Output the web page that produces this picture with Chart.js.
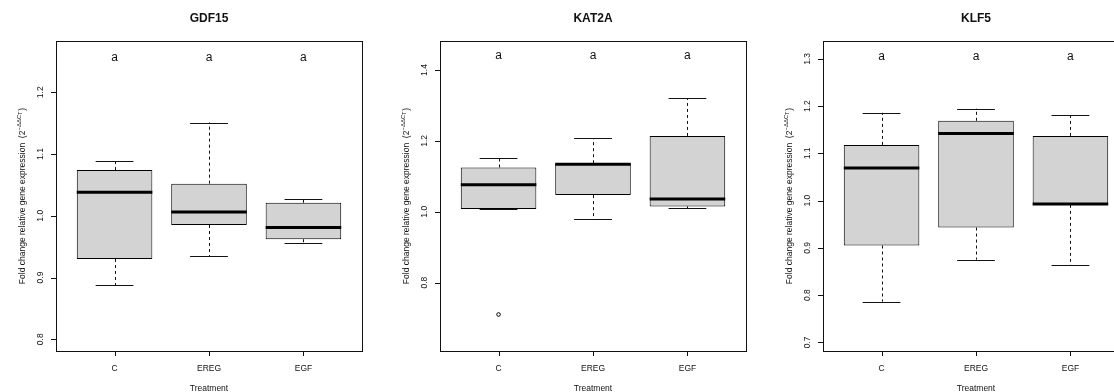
<!DOCTYPE html>
<html>
<head>
<meta charset="utf-8">
<script src="https://cdn.jsdelivr.net/npm/chart.js@4/dist/chart.umd.min.js"></script>
<style>
  html, body { margin: 0; padding: 0; background: #fff; overflow: hidden; }
  #fig { position: relative; width: 1114px; height: 392px; overflow: hidden; background: #fff; }
  #fig canvas { position: absolute; top: 0; }
</style>
</head>
<body>
<div id="fig">
  <canvas id="panel0" width="383" height="392" style="left:0px"></canvas>
  <canvas id="panel1" width="383" height="392" style="left:384px"></canvas>
  <canvas id="panel2" width="383" height="392" style="left:767px"></canvas>
</div>
<script>
// Treatment groups on the x axis
const treatments = ['C', 'EREG', 'EGF'];
const groupLetters = ['a', 'a', 'a'];

// GDF15 five-number summaries per treatment
const gdf15Lower  = [0.888, 0.935, 0.956];
const gdf15Q1     = [0.930, 0.985, 0.962];
const gdf15Median = [1.038, 1.006, 0.981];
const gdf15Q3     = [1.074, 1.052, 1.021];
const gdf15Upper  = [1.089, 1.151, 1.027];
const gdf15Outliers = [[], [], []];
const gdf15Ticks = [0.8, 0.9, 1.0, 1.1, 1.2];

// KAT2A five-number summaries per treatment
const kat2aLower  = [1.008, 0.979, 1.010];
const kat2aQ1     = [1.008, 1.047, 1.015];
const kat2aMedian = [1.076, 1.134, 1.036];
const kat2aQ3     = [1.125, 1.137, 1.214];
const kat2aUpper  = [1.153, 1.208, 1.320];
const kat2aOutliers = [[0.710], [], []];
const kat2aTicks = [0.8, 1.0, 1.2, 1.4];

// KLF5 five-number summaries per treatment
const klf5Lower  = [0.786, 0.875, 0.863];
const klf5Q1     = [0.905, 0.943, 0.991];
const klf5Median = [1.069, 1.142, 0.993];
const klf5Q3     = [1.118, 1.169, 1.137];
const klf5Upper  = [1.186, 1.195, 1.181];
const klf5Outliers = [[], [], []];
const klf5Ticks = [0.7, 0.8, 0.9, 1.0, 1.1, 1.2, 1.3];

const panels = [
  { canvas: 'panel0', gene: 'GDF15', lower: gdf15Lower, q1: gdf15Q1, median: gdf15Median, q3: gdf15Q3, upper: gdf15Upper,
    outliers: gdf15Outliers, ticks: gdf15Ticks, yMin: 0.781, yMax: 1.283, letterY: 1.255 },
  { canvas: 'panel1', gene: 'KAT2A', lower: kat2aLower, q1: kat2aQ1, median: kat2aMedian, q3: kat2aQ3, upper: kat2aUpper,
    outliers: kat2aOutliers, ticks: kat2aTicks, yMin: 0.607, yMax: 1.482, letterY: 1.44 },
  { canvas: 'panel2', gene: 'KLF5', lower: klf5Lower, q1: klf5Q1, median: klf5Median, q3: klf5Q3, upper: klf5Upper,
    outliers: klf5Outliers, ticks: klf5Ticks, yMin: 0.6816, yMax: 1.338, letterY: 1.304 }
];

const FONT = '"Liberation Sans", Arial, Helvetica, sans-serif';
const INK = '#111';
const BOX_HALF = 0.4;    // half box width, in x units
const STAPLE_HALF = 0.2; // half whisker cap width, in x units

// Draws whiskers (under the boxes), then medians, frame, axes and labels (over them)
function boxplotPlugin(spec) {
  return {
    id: 'boxplotDecor',
    beforeDatasetsDraw(chart) {
      const ctx = chart.ctx, xs = chart.scales.x, ys = chart.scales.y;
      ctx.save();
      ctx.strokeStyle = INK;
      ctx.lineWidth = 1;
      spec.q1.forEach((_, i) => {
        const xv = i + 1;
        const x = Math.round(xs.getPixelForValue(xv)) + 0.5;
        const yLo = ys.getPixelForValue(spec.lower[i]);
        const yQ1 = ys.getPixelForValue(spec.q1[i]);
        const yQ3 = ys.getPixelForValue(spec.q3[i]);
        const yHi = ys.getPixelForValue(spec.upper[i]);
        ctx.setLineDash([3, 3]);
        ctx.beginPath();
        ctx.moveTo(x, yQ3); ctx.lineTo(x, yHi);
        ctx.moveTo(x, yQ1); ctx.lineTo(x, yLo);
        ctx.stroke();
        ctx.setLineDash([]);
        const sl = xs.getPixelForValue(xv - STAPLE_HALF), sr = xs.getPixelForValue(xv + STAPLE_HALF);
        ctx.beginPath();
        ctx.moveTo(sl, Math.round(yHi) + 0.5); ctx.lineTo(sr, Math.round(yHi) + 0.5);
        ctx.moveTo(sl, Math.round(yLo) + 0.5); ctx.lineTo(sr, Math.round(yLo) + 0.5);
        ctx.stroke();
      });
      ctx.restore();
    },
    afterDatasetsDraw(chart) {
      const ctx = chart.ctx, xs = chart.scales.x, ys = chart.scales.y;
      const a = chart.chartArea;
      ctx.save();

      // medians
      ctx.strokeStyle = '#000';
      ctx.lineWidth = 3;
      ctx.lineCap = 'butt';
      spec.median.forEach((m, i) => {
        const y = ys.getPixelForValue(m);
        ctx.beginPath();
        ctx.moveTo(xs.getPixelForValue(i + 1 - BOX_HALF), y);
        ctx.lineTo(xs.getPixelForValue(i + 1 + BOX_HALF), y);
        ctx.stroke();
      });

      // frame
      ctx.lineWidth = 1;
      ctx.strokeStyle = INK;
      ctx.strokeRect(a.left + 0.5, a.top + 0.5, a.right - a.left, a.bottom - a.top);

      // y axis ticks and labels
      ctx.fillStyle = INK;
      ctx.font = '8.5px ' + FONT;
      ctx.beginPath();
      spec.ticks.forEach(t => {
        const y = Math.round(ys.getPixelForValue(t)) + 0.5;
        ctx.moveTo(a.left - 5, y); ctx.lineTo(a.left, y);
      });
      ctx.stroke();
      ctx.textAlign = 'center';
      ctx.textBaseline = 'alphabetic';
      spec.ticks.forEach(t => {
        const y = ys.getPixelForValue(t);
        ctx.save();
        ctx.translate(a.left - 13.5, y);
        ctx.rotate(-Math.PI / 2);
        ctx.fillText(t.toFixed(1), 0, 0);
        ctx.restore();
      });

      // x axis ticks and labels
      ctx.beginPath();
      treatments.forEach((_, i) => {
        const x = Math.round(xs.getPixelForValue(i + 1)) + 0.5;
        ctx.moveTo(x, a.bottom); ctx.lineTo(x, a.bottom + 5);
      });
      ctx.stroke();
      treatments.forEach((t, i) => {
        ctx.fillText(t, xs.getPixelForValue(i + 1), 371);
      });

      // axis titles
      const cx = (a.left + a.right) / 2, cy = (a.top + a.bottom) / 2;
      ctx.fillText('Treatment', cx, 391);
      drawYTitle(ctx, 24.5, cy);

      // panel title
      ctx.font = 'bold 12px ' + FONT;
      ctx.fillText(spec.gene, cx, 22);

      // group letters
      ctx.font = '12px ' + FONT;
      groupLetters.forEach((g, i) => {
        ctx.fillText(g, xs.getPixelForValue(i + 1), ys.getPixelForValue(spec.letterY) + 3);
      });
      ctx.restore();
    }
  };
}

// Rotated y title with the 2^-ΔΔCT exponent
function drawYTitle(ctx, x, y) {
  const main = 'Fold change relative gene expression  (2';
  const sup = '\u2212\u0394\u0394C';
  const sub = 'T';
  const close = ')';
  const fMain = '8.5px ' + FONT, fSup = '6px ' + FONT, fSub = '5px ' + FONT;
  ctx.save();
  ctx.font = fMain; const wMain = ctx.measureText(main).width; const wClose = ctx.measureText(close).width;
  ctx.font = fSup; const wSup = ctx.measureText(sup).width;
  ctx.font = fSub; const wSub = ctx.measureText(sub).width;
  const total = wMain + wSup + wSub + wClose + 1;
  ctx.translate(x, y);
  ctx.rotate(-Math.PI / 2);
  ctx.textAlign = 'left';
  ctx.textBaseline = 'alphabetic';
  let u = -total / 2;
  ctx.font = fMain; ctx.fillText(main, u, 0); u += wMain;
  ctx.font = fSup; ctx.fillText(sup, u, -4); u += wSup;
  ctx.font = fSub; ctx.fillText(sub, u, -2.5); u += wSub + 1;
  ctx.font = fMain; ctx.fillText(close, u, 0);
  ctx.restore();
}

panels.forEach(spec => {
  const boxes = treatments.map((_, i) => ({ x: i + 1, y: [spec.q1[i], spec.q3[i]] }));
  const points = [];
  spec.outliers.forEach((vals, i) => vals.forEach(v => points.push({ x: i + 1, y: v })));

  new Chart(document.getElementById(spec.canvas), {
    type: 'bar',
    data: {
      datasets: [
        {
          type: 'bar',
          data: boxes,
          backgroundColor: '#d3d3d3',
          borderColor: '#000',
          borderWidth: 1,
          borderSkipped: false,
          categoryPercentage: 1,
          barPercentage: 0.8
        },
        {
          type: 'scatter',
          data: points,
          pointStyle: 'circle',
          pointRadius: 1.8,
          pointBorderWidth: 1,
          borderColor: '#000',
          backgroundColor: '#fff'
        }
      ]
    },
    options: {
      responsive: false,
      animation: false,
      devicePixelRatio: 1,
      layout: { padding: { left: 56, right: 21, top: 41, bottom: 41 } },
      plugins: { legend: { display: false }, tooltip: { enabled: false }, title: { display: false } },
      scales: {
        x: { type: 'linear', min: 0.38, max: 3.62, offset: false, display: false,
             ticks: { stepSize: 1, includeBounds: false } },
        y: { type: 'linear', min: spec.yMin, max: spec.yMax, display: false }
      }
    },
    plugins: [boxplotPlugin(spec)]
  });
});
</script>
</body>
</html>
